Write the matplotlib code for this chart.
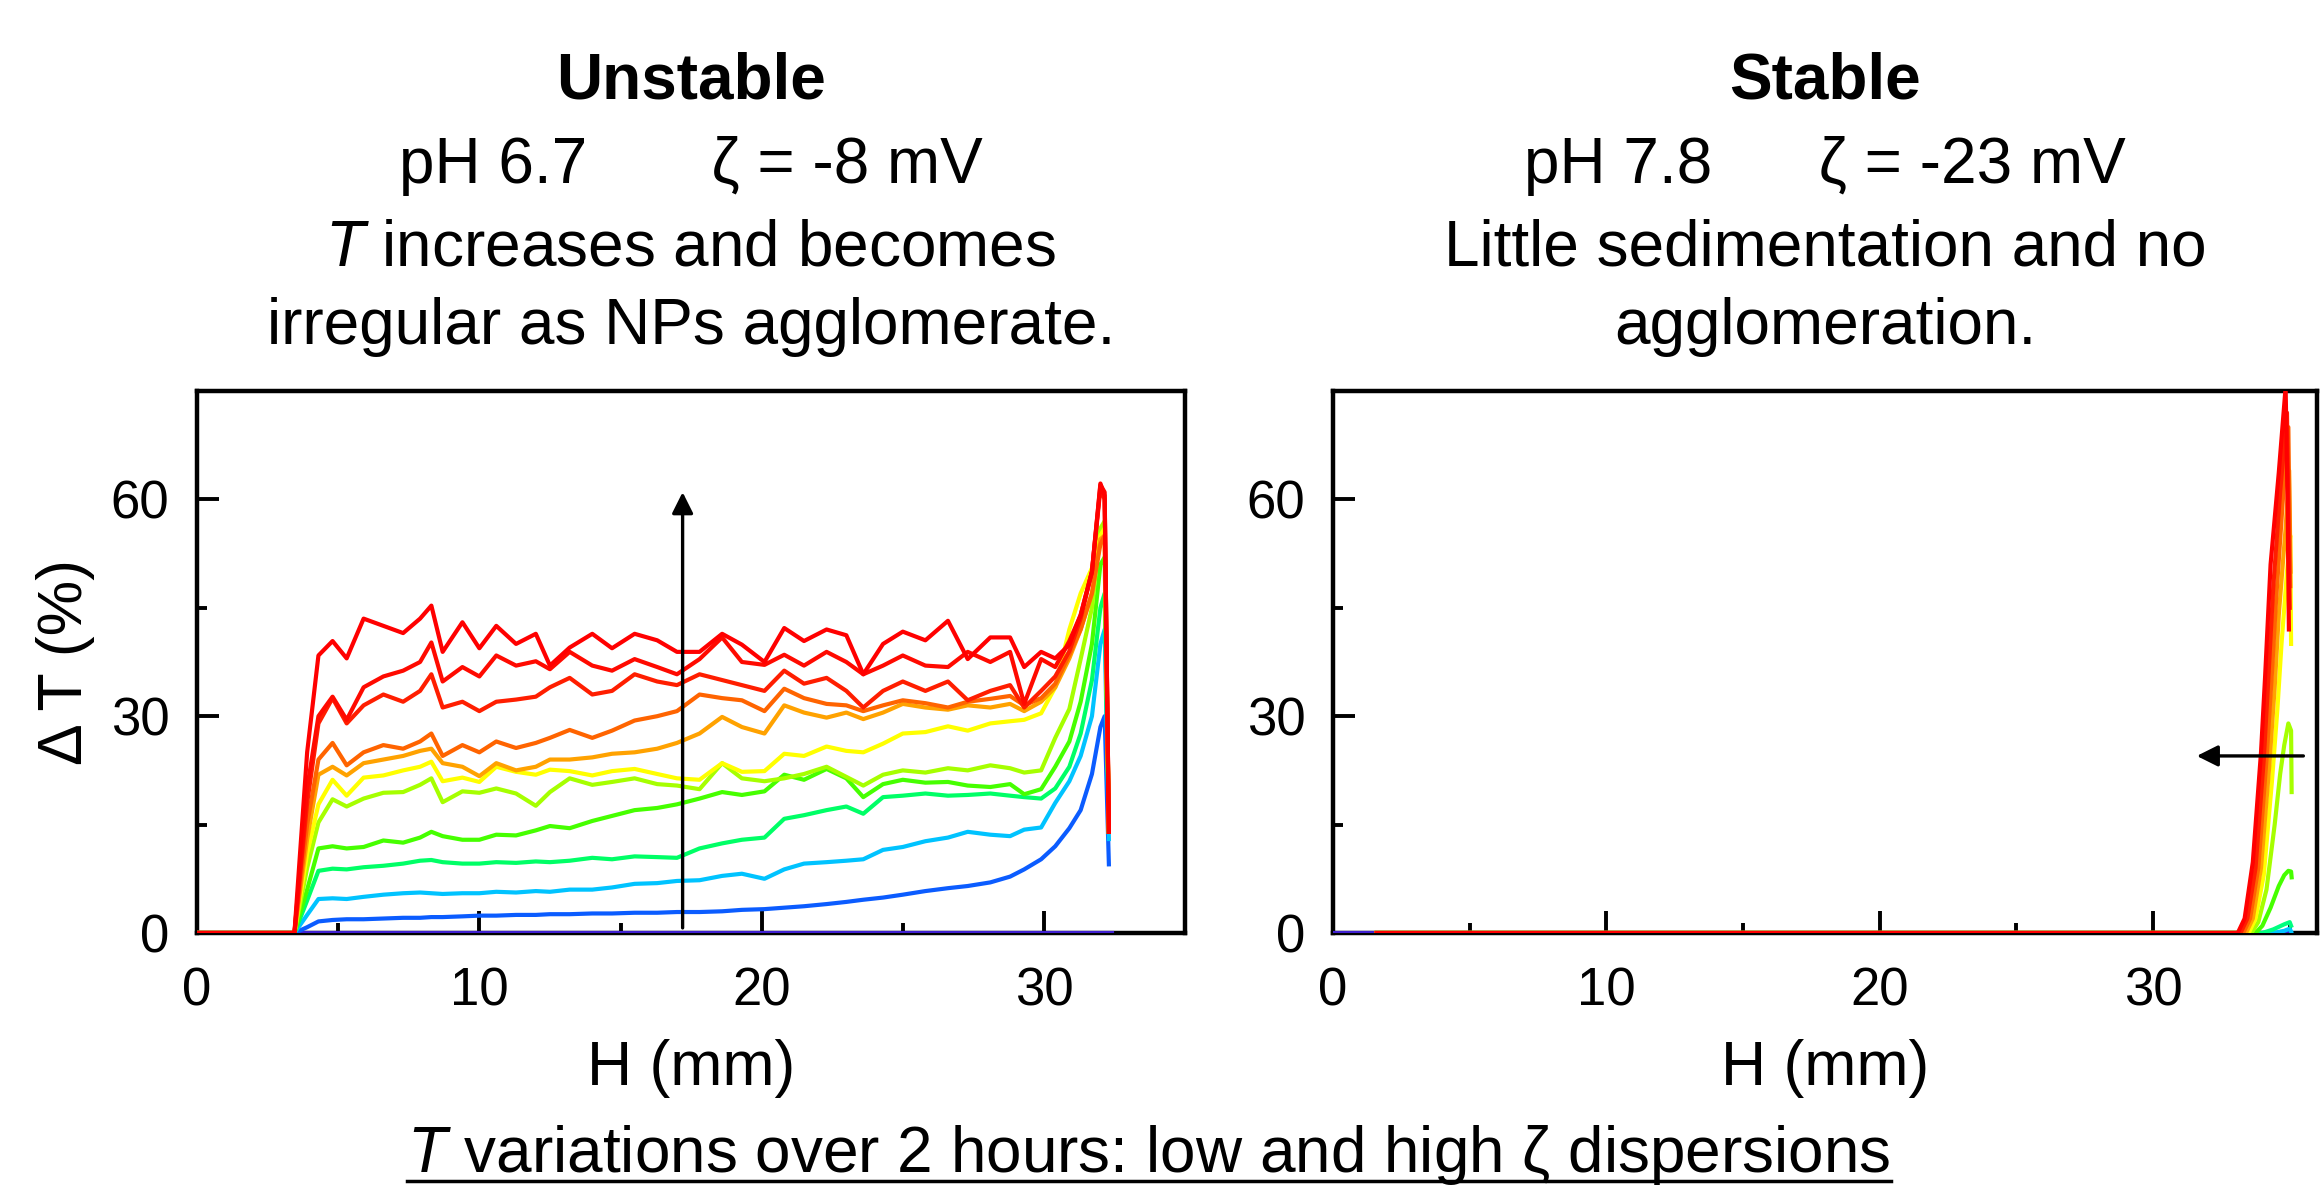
import matplotlib
matplotlib.use("Agg")
import matplotlib.pyplot as plt
from matplotlib.ticker import MultipleLocator
from matplotlib.lines import Line2D

plt.rcParams['font.family'] = ['Liberation Sans', 'DejaVu Sans']
plt.rcParams['mathtext.fontset'] = 'custom'
plt.rcParams['mathtext.rm'] = 'Liberation Sans'
plt.rcParams['mathtext.it'] = 'Liberation Sans:italic'
plt.rcParams['mathtext.bf'] = 'Liberation Sans:bold'

# ---- left panel (unstable, pH 6.7): H grid (mm) and Delta T (%) per scan ----
H_left = [0.0, 3.45, 3.9, 4.3, 4.8, 5.3, 5.9, 6.6, 7.3, 7.9,
          8.3, 8.7, 9.4, 10.0, 10.6, 11.3, 12.0, 12.5, 13.2, 14.0,
          14.7, 15.5, 16.3, 17.0, 17.8, 18.6, 19.3, 20.1, 20.8, 21.5,
          22.3, 23.0, 23.6, 24.3, 25.0, 25.8, 26.6, 27.3, 28.1, 28.8,
          29.3, 29.9, 30.4, 30.9, 31.3, 31.7, 32.0, 32.15, 32.3]

T_blue = [0, 0, 0.8, 1.6, 1.8, 1.9, 1.9, 2.0, 2.1, 2.1,
          2.2, 2.2, 2.3, 2.4, 2.4, 2.5, 2.5, 2.6, 2.6, 2.7,
          2.7, 2.8, 2.8, 2.9, 2.9, 3.0, 3.2, 3.3, 3.5, 3.7,
          4.0, 4.3, 4.6, 4.9, 5.3, 5.8, 6.2, 6.5, 7.0, 7.8,
          8.8, 10.2, 12.0, 14.5, 17.0, 22.0, 28.5, 30.0, 9.5]
T_cyan = [0, 0, 2.5, 4.7, 4.8, 4.7, 5.0, 5.3, 5.5, 5.6,
          5.5, 5.4, 5.5, 5.5, 5.7, 5.6, 5.8, 5.7, 6.0, 6.0,
          6.3, 6.8, 6.9, 7.2, 7.3, 7.9, 8.2, 7.5, 8.8, 9.6,
          9.8, 10.0, 10.2, 11.5, 11.9, 12.7, 13.2, 14.0, 13.6, 13.4,
          14.3, 14.6, 18.0, 21.0, 24.5, 30.0, 40.0, 42.0, 13.0]
T_spring = [0, 0, 4.5, 8.6, 8.9, 8.8, 9.1, 9.3, 9.6, 10.0,
            10.1, 9.8, 9.6, 9.6, 9.8, 9.7, 9.9, 9.8, 10.0, 10.4,
            10.2, 10.6, 10.5, 10.4, 11.7, 12.4, 12.9, 13.2, 15.8, 16.3,
            17.0, 17.5, 16.5, 18.8, 19.0, 19.3, 19.0, 19.1, 19.3, 19.0,
            18.8, 18.6, 20.0, 23.0, 27.6, 35.0, 45.0, 47.0, 14.0]
T_green = [0, 0, 6.0, 11.7, 12.0, 11.7, 11.9, 12.8, 12.5, 13.2,
           14.0, 13.4, 12.9, 12.9, 13.6, 13.5, 14.2, 14.8, 14.5, 15.5,
           16.2, 17.0, 17.3, 17.8, 18.6, 19.5, 19.1, 19.6, 21.9, 21.2,
           22.7, 21.4, 18.8, 20.6, 21.2, 20.8, 20.9, 20.4, 20.2, 20.6,
           19.2, 19.9, 23.0, 26.5, 32.0, 40.0, 51.0, 52.0, 14.0]
T_yelgreen = [0, 0, 9.0, 15.3, 18.5, 17.5, 18.6, 19.4, 19.5, 20.5,
              21.4, 18.1, 19.6, 19.4, 20.0, 19.3, 17.6, 19.5, 21.4, 20.5,
              20.9, 21.4, 20.6, 20.4, 19.9, 23.5, 21.4, 21.0, 21.4, 22.0,
              23.0, 21.6, 20.4, 21.9, 22.5, 22.2, 22.8, 22.5, 23.2, 22.8,
              22.2, 22.5, 27.0, 31.0, 37.9, 45.0, 56.0, 57.0, 14.0]
T_yellow = [0, 0, 11.0, 17.8, 21.2, 19.0, 21.5, 21.8, 22.5, 23.0,
            23.7, 21.0, 21.5, 20.9, 23.0, 22.3, 21.9, 22.6, 22.4, 21.8,
            22.4, 22.7, 22.0, 21.4, 21.2, 23.5, 22.3, 22.4, 24.8, 24.5,
            25.8, 25.2, 25.0, 26.2, 27.6, 27.8, 28.6, 28.0, 29.0, 29.3,
            29.5, 30.4, 34.0, 42.0, 47.0, 50.5, 55.0, 56.0, 14.0]
T_amber = [0, 0, 13.0, 21.9, 23.0, 21.8, 23.5, 24.0, 24.5, 25.2,
           25.5, 23.5, 23.0, 21.7, 23.5, 22.5, 23.0, 24.0, 24.0, 24.3,
           24.8, 25.0, 25.5, 26.3, 27.6, 29.9, 28.5, 27.6, 31.5, 30.5,
           29.8, 30.5, 29.6, 30.5, 31.7, 31.2, 30.9, 31.5, 31.2, 31.7,
           30.7, 32.0, 34.0, 38.0, 42.0, 47.0, 54.5, 55.0, 14.0]
T_orange = [0, 0, 15.0, 24.0, 26.3, 23.2, 25.0, 26.0, 25.5, 26.5,
            27.6, 24.5, 26.0, 25.0, 26.5, 25.6, 26.3, 27.0, 28.1, 27.0,
            28.0, 29.4, 30.0, 30.7, 33.0, 32.5, 32.2, 30.7, 33.8, 32.5,
            31.7, 31.5, 30.7, 31.5, 32.2, 31.8, 31.2, 32.0, 32.4, 32.8,
            31.5, 32.5, 34.5, 38.5, 42.0, 47.0, 53.8, 55.0, 14.0]
T_red1 = [0, 0, 18.0, 29.0, 32.5, 29.0, 31.5, 33.0, 32.0, 33.5,
          35.8, 31.2, 32.0, 30.7, 32.0, 32.3, 32.7, 34.0, 35.3, 33.0,
          33.5, 35.8, 34.8, 34.3, 35.8, 35.0, 34.3, 33.5, 36.3, 34.5,
          35.3, 33.5, 31.2, 33.5, 34.8, 33.5, 34.8, 32.2, 33.5, 34.3,
          31.2, 33.5, 35.5, 39.0, 43.5, 50.0, 61.5, 60.0, 14.0]
T_red2 = [0, 0, 20.0, 30.0, 32.7, 29.5, 34.0, 35.5, 36.3, 37.5,
          40.2, 34.8, 36.8, 35.5, 38.4, 37.0, 37.6, 36.5, 38.9, 37.0,
          36.3, 37.9, 36.8, 35.8, 37.9, 40.9, 37.5, 37.1, 38.5, 37.0,
          38.9, 37.5, 35.8, 37.0, 38.4, 37.0, 36.8, 38.9, 37.5, 38.9,
          31.7, 37.9, 36.8, 40.4, 44.0, 50.0, 62.0, 61.0, 14.0]
T_red3 = [0, 0, 25.0, 38.4, 40.4, 38.0, 43.5, 42.5, 41.5, 43.5,
          45.3, 38.9, 43.0, 39.4, 42.5, 40.0, 41.4, 37.0, 39.5, 41.4,
          39.4, 41.4, 40.5, 38.9, 38.9, 41.4, 39.9, 37.5, 42.2, 40.4,
          42.0, 41.2, 35.8, 40.0, 41.7, 40.5, 43.2, 37.9, 40.9, 40.9,
          36.8, 38.9, 38.0, 39.9, 44.0, 50.0, 62.2, 60.5, 14.0]

H_left_ref = [0.0, 32.4]
T_left_ref = [0, 0]

left_series = [T_blue, T_cyan, T_spring, T_green, T_yelgreen, T_yellow,
               T_amber, T_orange, T_red1, T_red2, T_red3]
left_colors = ['#0b5cff', '#00c3ff', '#00ff66', '#46ff00', '#a6ff00', '#ffff00',
               '#ffa200', '#ff6400', '#ff1e00', '#ff0a00', '#ff0000']

# ---- right panel (stable, pH 7.8) ----
H_right_ref = [0.0, 35.0]
T_right_ref = [0, 0]
H_r_cyan = [1.6, 34.4, 34.8, 35.0, 35.05]
T_r_cyan = [0, 0, 0.3, 0.6, 0.2]
H_r_spring = [1.6, 34.0, 34.4, 34.8, 35.0, 35.05]
T_r_spring = [0, 0, 0.5, 1.2, 1.5, 1.0]
H_r_green = [1.6, 33.75, 34.0, 34.3, 34.6, 34.8, 34.95, 35.05, 35.07]
T_r_green = [0, 0, 1.0, 3.5, 6.5, 8.0, 8.6, 8.5, 7.7]
H_r_yelgreen = [1.6, 33.6, 33.85, 34.15, 34.45, 34.65, 34.8, 34.95, 35.05, 35.07]
T_r_yelgreen = [0, 0, 1.5, 6.0, 15.0, 22.0, 26.0, 29.0, 28.0, 19.5]
H_r_yellow = [1.6, 33.5, 33.75, 34.05, 34.35, 34.55, 34.7, 34.9, 35.02, 35.05]
T_r_yellow = [0, 0, 2.0, 8.0, 21.0, 31.0, 40.0, 50.0, 55.0, 40.0]
H_r_amber = [1.6, 33.4, 33.65, 33.95, 34.25, 34.45, 34.6, 34.85, 34.98, 35.03]
T_r_amber = [0, 0, 2.0, 9.0, 23.0, 34.0, 44.0, 56.0, 64.0, 50.0]
H_r_orange = [1.6, 33.3, 33.55, 33.85, 34.15, 34.35, 34.5, 34.75, 34.95, 35.02]
T_r_orange = [0, 0, 2.0, 9.0, 24.0, 36.0, 46.0, 60.0, 70.0, 48.0]
H_r_red2 = [1.6, 33.2, 33.45, 33.75, 34.05, 34.2, 34.4, 34.65, 34.9, 35.0]
T_r_red2 = [0, 0, 2.0, 9.0, 24.0, 34.0, 48.0, 61.0, 72.0, 45.0]
H_r_red1 = [1.6, 33.1, 33.35, 33.65, 33.95, 34.1, 34.3, 34.6, 34.85, 34.92, 34.97]
T_r_red1 = [0, 0, 2.0, 9.8, 25.0, 35.5, 51.0, 63.7, 75.5, 60.0, 42.0]

right_series = [(H_r_cyan, T_r_cyan), (H_r_spring, T_r_spring), (H_r_green, T_r_green),
                (H_r_yelgreen, T_r_yelgreen), (H_r_yellow, T_r_yellow),
                (H_r_amber, T_r_amber), (H_r_orange, T_r_orange),
                (H_r_red2, T_r_red2), (H_r_red1, T_r_red1)]
right_colors = ['#00c3ff', '#00ff80', '#46ff00', '#a6ff00', '#ffff00',
                '#ffa200', '#ff6400', '#ff1e00', '#ff0000']

x_ticks = [0, 10, 20, 30]
y_ticks = [0, 30, 60]

fig = plt.figure(figsize=(23.21, 11.87), dpi=100)
ax1 = fig.add_axes([0.0849, 0.2140, 0.4257, 0.4566])
ax2 = fig.add_axes([0.5743, 0.2140, 0.4240, 0.4566])

lw = 3.0
# curves sit on top of the spines, like in the original export
ax1.plot(H_left_ref, T_left_ref, color='#4020d0', lw=lw, zorder=3)
for vals, c in zip(left_series, left_colors):
    ax1.plot(H_left, vals, color=c, lw=lw, zorder=3)

ax2.plot(H_right_ref, T_right_ref, color='#4020d0', lw=lw, zorder=3)
for (hh, tt), c in zip(right_series, right_colors):
    ax2.plot(hh, tt, color=c, lw=lw, zorder=3)

for ax, xmax in ((ax1, 35), (ax2, 36)):
    ax.set_xlim(0, xmax)
    ax.set_ylim(0, 75)
    ax.set_xticks(x_ticks)
    ax.set_yticks(y_ticks)
    ax.xaxis.set_minor_locator(MultipleLocator(5))
    ax.yaxis.set_minor_locator(MultipleLocator(15))
    ax.tick_params(which='both', direction='in', width=2.8, top=False, right=False)
    ax.tick_params(which='major', length=15.5)
    ax.tick_params(which='minor', length=7.5)
    ax.tick_params(axis='x', labelsize=38, pad=24)
    ax.tick_params(axis='y', labelsize=38, pad=20)
    for sp in ax.spines.values():
        sp.set_linewidth(3.2)
    ax.set_xlabel('H (mm)', fontsize=45, va='baseline')
    ax.xaxis.set_label_coords(0.5, -0.28)

ax1.set_ylabel('Δ T (%)', fontsize=45, va='center')
ax1.yaxis.set_label_coords(-0.133, 0.5)

ax1.annotate('', xy=(17.2, 61), xytext=(17.2, 0.7),
             arrowprops=dict(arrowstyle='-|>', color='k', lw=2.4,
                             mutation_scale=32, shrinkA=0, shrinkB=0))
ax2.annotate('', xy=(31.6, 24.5), xytext=(35.5, 24.5),
             arrowprops=dict(arrowstyle='-|>', color='k', lw=2.4,
                             mutation_scale=32, shrinkA=0, shrinkB=0))

# headings above each panel
fs = 46
lx, rx = 0.2977, 0.7863
fig.text(lx, 0.9166, 'Unstable', ha='center', va='baseline', fontsize=fs, fontweight='bold')
fig.text(lx, 0.8458, 'pH 6.7       ζ = -8 mV', ha='center', va='baseline', fontsize=fs)
fig.text(lx, 0.7767, '$T$ increases and becomes', ha='center', va='baseline', fontsize=fs)
fig.text(lx, 0.7102, 'irregular as NPs agglomerate.', ha='center', va='baseline', fontsize=fs)

fig.text(rx, 0.9166, 'Stable', ha='center', va='baseline', fontsize=fs, fontweight='bold')
fig.text(rx, 0.8458, 'pH 7.8      ζ = -23 mV', ha='center', va='baseline', fontsize=fs)
fig.text(rx, 0.7767, 'Little sedimentation and no', ha='center', va='baseline', fontsize=fs)
fig.text(rx, 0.7102, 'agglomeration.', ha='center', va='baseline', fontsize=fs)

bottom = fig.text(0.495, 0.0126, '$T$ variations over 2 hours: low and high ζ dispersions',
                  ha='center', va='baseline', fontsize=fs)

# underline the bottom caption
fig.canvas.draw()
bb = bottom.get_window_extent()
W = fig.bbox.width
fig.add_artist(Line2D([bb.x0 / W, bb.x1 / W], [0.005, 0.005],
                      transform=fig.transFigure, color='k', lw=2.5))

fig.savefig('out.png', dpi=100)
